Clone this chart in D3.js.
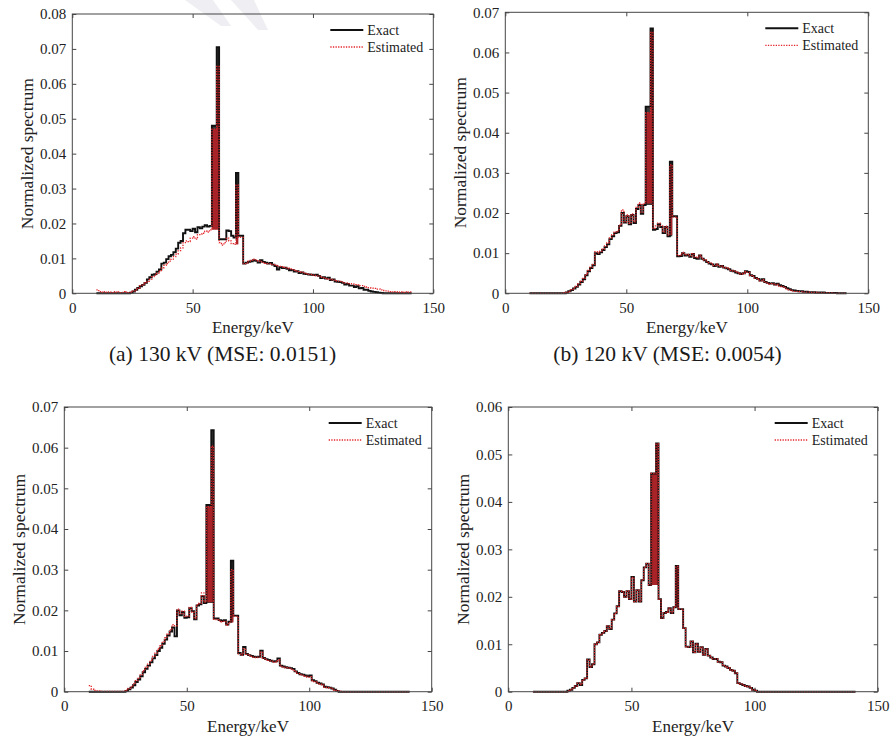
<!DOCTYPE html>
<html>
<head>
<meta charset="utf-8">
<script src="https://cdn.jsdelivr.net/npm/d3@7"></script>
<style>
  body { margin: 0; background: #fff; }
  svg { display: block; }
  text { font-family: "Liberation Serif", "Times New Roman", serif; }
</style>
</head>
<body>
<svg id="fig" width="890" height="738"></svg>
<script>
// Energy grid: 1 keV bins from 10 to 140 keV
const energyStart = 10;
const energyEnd = 140;
const energies = d3.range(energyStart, energyEnd + 1);

// Tungsten characteristic lines (K-alpha2/K-alpha1, K-beta) as bin ranges [first, last]
const lineBands = [[58, 60], [68, 68]];

const xTicks = [0, 50, 100, 150];
const yTicks130 = [0, 0.01, 0.02, 0.03, 0.04, 0.05, 0.06, 0.07, 0.08];
const yTicks120 = [0, 0.01, 0.02, 0.03, 0.04, 0.05, 0.06, 0.07];
const yTicks110 = [0, 0.01, 0.02, 0.03, 0.04, 0.05, 0.06, 0.07];
const yTicks100 = [0, 0.01, 0.02, 0.03, 0.04, 0.05, 0.06];

const seriesNames = ["Exact", "Estimated"];
const captions = ["(a) 130 kV (MSE: 0.0151)", "(b) 120 kV (MSE: 0.0054)"];
const axisTitleX = "Energy/keV";
const axisTitleY = "Normalized spectrum";

// 130 kV
const exact130 = [
  0, 0, 0, 0, 0, 0, 0, 0, 0, 0,
  0, 0, 0, 0, 0.0002, 0.0005, 0.001, 0.0015, 0.002, 0.0024,
  0.003, 0.004, 0.0046, 0.0053, 0.0055, 0.0062, 0.0068, 0.0085, 0.0088, 0.0098,
  0.0106, 0.011, 0.0118, 0.0128, 0.0145, 0.015, 0.0172, 0.0182, 0.0182, 0.0178,
  0.0185, 0.0175, 0.0189, 0.0186, 0.0191, 0.0195, 0.0191, 0.0193, 0.048, 0.048,
  0.0705, 0.0155, 0.0155, 0.0155, 0.018, 0.0178, 0.0165, 0.016, 0.0345, 0.0165,
  0.0165, 0.0085, 0.0088, 0.009, 0.0092, 0.0095, 0.0093, 0.0088, 0.0095, 0.009,
  0.0088, 0.0085, 0.0087, 0.0082, 0.0078, 0.0068, 0.0075, 0.0072, 0.0073, 0.007,
  0.0066, 0.0067, 0.0062, 0.0063, 0.0058, 0.006, 0.0056, 0.0055, 0.0054, 0.0053,
  0.0052, 0.0053, 0.005, 0.0044, 0.0046, 0.0042, 0.0045, 0.0038, 0.004, 0.0034,
  0.0033, 0.0032, 0.003, 0.0025, 0.0027, 0.0022, 0.0022, 0.0018, 0.002, 0.0014,
  0.0015, 0.001, 0.001, 0.0007, 0.0005, 0.0004, 0.0003, 0.0002, 0.0001, 0,
  0, 0, 0, 0, 0, 0, 0, 0, 0, 0,
  0
];
const est130 = [
  0.001, 0.0005, 0.0003, 0.0005, 0.0003, 0.0004, 0.0002, 0.0005, 0.0003, 0.0004,
  0.0002, 0.0005, 0.0003, 0.0002, 0.0003, 0.0006, 0.001, 0.0014, 0.0022, 0.0026,
  0.003, 0.0034, 0.004, 0.0048, 0.0052, 0.0058, 0.0063, 0.0072, 0.008, 0.0085,
  0.0092, 0.0098, 0.0105, 0.0112, 0.0122, 0.013, 0.0145, 0.015, 0.0148, 0.0158,
  0.0162, 0.0155, 0.0168, 0.017, 0.0172, 0.0178, 0.0175, 0.0182, 0.047, 0.047,
  0.065, 0.0145, 0.0138, 0.0145, 0.0158, 0.015, 0.0142, 0.014, 0.031, 0.016,
  0.016, 0.0085, 0.0087, 0.0092, 0.0095, 0.0098, 0.0096, 0.0092, 0.009, 0.0088,
  0.0086, 0.0085, 0.0085, 0.0082, 0.008, 0.0078, 0.0077, 0.0076, 0.0074, 0.0073,
  0.007, 0.0068, 0.0066, 0.0064, 0.0062, 0.006, 0.0058, 0.0056, 0.0054, 0.0054,
  0.0052, 0.005, 0.0049, 0.0046, 0.0045, 0.0043, 0.0041, 0.004, 0.0038, 0.0036,
  0.0035, 0.0034, 0.0032, 0.003, 0.003, 0.0028, 0.0027, 0.0025, 0.0024, 0.0022,
  0.0022, 0.002, 0.0018, 0.0016, 0.0015, 0.0014, 0.0012, 0.0012, 0.001, 0.0008,
  0.0007, 0.0006, 0.0005, 0.0004, 0.0005, 0.0003, 0.0004, 0.0003, 0.0004, 0.0003,
  0.0004
];

// 120 kV
const exact120 = [
  0, 0, 0, 0, 0, 0, 0, 0, 0, 0,
  0, 0, 0, 0, 0, 0.0002, 0.0005, 0.0008, 0.0012, 0.0016,
  0.0022, 0.0028, 0.0035, 0.0045, 0.0055, 0.0063, 0.007, 0.01, 0.0098, 0.0102,
  0.0108, 0.0115, 0.0122, 0.0135, 0.0142, 0.015, 0.0152, 0.0168, 0.02, 0.0176,
  0.0192, 0.0172, 0.0195, 0.0175, 0.021, 0.022, 0.0198, 0.022, 0.0465, 0.0465,
  0.066, 0.0158, 0.016, 0.0172, 0.0165, 0.015, 0.0165, 0.0142, 0.0328, 0.0192,
  0.0192, 0.0092, 0.0093, 0.01, 0.0094, 0.0096, 0.0091, 0.0098, 0.0088, 0.0086,
  0.0094, 0.0086, 0.0082, 0.0078, 0.0074, 0.0072, 0.0068, 0.0072, 0.0066, 0.0068,
  0.0064, 0.0062, 0.006, 0.0056, 0.0055, 0.0052, 0.005, 0.0048, 0.005, 0.0055,
  0.0053, 0.0045, 0.0043, 0.0038, 0.0036, 0.0032, 0.0035, 0.0028, 0.0026, 0.0024,
  0.0025, 0.0022, 0.0024, 0.002, 0.0018, 0.0016, 0.0013, 0.001, 0.0008, 0.0007,
  0.0006, 0.0005, 0.0005, 0.0004, 0.0004, 0.0003, 0.0003, 0.0003, 0.0002, 0.0002,
  0.0002, 0.0002, 0.0001, 0.0001, 0.0001, 0.0001, 0.0001, 0, 0, 0,
  0
];
const est120 = [
  0, 0, 0, 0, 0, 0, 0, 0, 0, 0,
  0, 0, 0, 0, 0.0001, 0.0003, 0.0005, 0.0009, 0.0013, 0.0018,
  0.0024, 0.003, 0.0037, 0.0047, 0.0057, 0.0065, 0.0072, 0.0104, 0.01, 0.0105,
  0.011, 0.0118, 0.0126, 0.0138, 0.0146, 0.0153, 0.0155, 0.017, 0.0208, 0.0178,
  0.0195, 0.0174, 0.0198, 0.0178, 0.0214, 0.0225, 0.0202, 0.0224, 0.045, 0.045,
  0.065, 0.0162, 0.0168, 0.0175, 0.0168, 0.0153, 0.0167, 0.0145, 0.032, 0.019,
  0.019, 0.0094, 0.0095, 0.0102, 0.0096, 0.0097, 0.0093, 0.0099, 0.009, 0.0088,
  0.0095, 0.0087, 0.0083, 0.0079, 0.0076, 0.0073, 0.0069, 0.0073, 0.0067, 0.0068,
  0.0065, 0.0063, 0.006, 0.0057, 0.0055, 0.0053, 0.0051, 0.0048, 0.005, 0.0054,
  0.0052, 0.0044, 0.0042, 0.0037, 0.0035, 0.0031, 0.0034, 0.0027, 0.0025, 0.0023,
  0.0024, 0.0021, 0.0022, 0.0018, 0.0016, 0.0014, 0.0011, 0.0008, 0.0006, 0.0005,
  0.0005, 0.0004, 0.0004, 0.0003, 0.0003, 0.0003, 0.0002, 0.0002, 0.0002, 0.0001,
  0.0001, 0.0001, 0.0001, 0.0001, 0.0001, 0, 0, 0, 0, 0,
  0
];

// 110 kV
const exact110 = [
  0, 0, 0, 0, 0, 0, 0, 0, 0, 0,
  0, 0, 0, 0, 0, 0.0002, 0.0006, 0.001, 0.0016, 0.0024,
  0.003, 0.0038, 0.0048, 0.0056, 0.0064, 0.0072, 0.0082, 0.009, 0.01, 0.0108,
  0.0118, 0.0128, 0.0138, 0.0148, 0.0158, 0.0136, 0.02, 0.0188, 0.0196, 0.0182,
  0.0183, 0.0205, 0.0198, 0.0178, 0.0212, 0.0215, 0.0235, 0.0218, 0.0459, 0.0459,
  0.0643, 0.018, 0.018, 0.0176, 0.0174, 0.0176, 0.0165, 0.0172, 0.0322, 0.0187,
  0.0187, 0.0095, 0.0091, 0.011, 0.0093, 0.009, 0.0088, 0.0086, 0.0085, 0.0086,
  0.0101, 0.0083, 0.008, 0.0078, 0.0076, 0.0074, 0.0075, 0.0082, 0.0064, 0.0062,
  0.006, 0.0059, 0.0058, 0.0056, 0.005, 0.0046, 0.0043, 0.0042, 0.004, 0.0038,
  0.004, 0.0028, 0.0026, 0.0022, 0.002, 0.0018, 0.0012, 0.0011, 0.001, 0.0008,
  0.0005, 0.0002, 0, 0, 0, 0, 0, 0, 0, 0,
  0, 0, 0, 0, 0, 0, 0, 0, 0, 0,
  0, 0, 0, 0, 0, 0, 0, 0, 0, 0,
  0
];
const est110 = [
  0.0015, 0.0006, 0.0003, 0.0002, 0.0002, 0.0001, 0.0001, 0.0001, 0.0001, 0.0001,
  0.0001, 0.0001, 0.0001, 0.0001, 0.0002, 0.0004, 0.0008, 0.0012, 0.0019, 0.0027,
  0.0033, 0.0042, 0.0052, 0.006, 0.0068, 0.0077, 0.0087, 0.0095, 0.0105, 0.0113,
  0.0123, 0.0133, 0.0142, 0.0152, 0.0165, 0.0162, 0.0203, 0.0192, 0.0198, 0.0185,
  0.0186, 0.0207, 0.0196, 0.018, 0.0214, 0.0218, 0.0243, 0.022, 0.0455, 0.0455,
  0.0604, 0.0178, 0.0177, 0.0174, 0.0172, 0.0173, 0.0163, 0.017, 0.03, 0.0185,
  0.0185, 0.0093, 0.009, 0.0106, 0.0092, 0.0089, 0.0087, 0.0085, 0.0084, 0.0085,
  0.0097, 0.0082, 0.0079, 0.0077, 0.0075, 0.0072, 0.0073, 0.0078, 0.0063, 0.0061,
  0.0059, 0.0058, 0.0056, 0.0054, 0.0049, 0.0045, 0.0042, 0.0041, 0.0038, 0.0036,
  0.0037, 0.0027, 0.0024, 0.0021, 0.0019, 0.0016, 0.0011, 0.001, 0.0009, 0.0007,
  0.0004, 0.0002, 0.0001, 0, 0, 0, 0, 0, 0, 0,
  0, 0, 0, 0, 0, 0, 0, 0, 0, 0,
  0, 0, 0, 0, 0, 0, 0, 0, 0, 0,
  0
];

// 100 kV
const exact100 = [
  0, 0, 0, 0, 0, 0, 0, 0, 0, 0,
  0, 0, 0, 0, 0.0002, 0.0004, 0.0008, 0.0012, 0.0018, 0.0014,
  0.0025, 0.0028, 0.0068, 0.0052, 0.0058, 0.01, 0.0104, 0.012, 0.0124, 0.0128,
  0.0138, 0.0132, 0.0152, 0.0165, 0.018, 0.0212, 0.021, 0.02, 0.0212, 0.0195,
  0.0242, 0.019, 0.0214, 0.019, 0.0235, 0.0262, 0.027, 0.0225, 0.046, 0.046,
  0.0523, 0.0195, 0.0155, 0.0166, 0.0168, 0.0176, 0.0166, 0.0178, 0.0265, 0.0174,
  0.0174, 0.0134, 0.0095, 0.0094, 0.0106, 0.0083, 0.0101, 0.0084, 0.0094, 0.0078,
  0.009, 0.0076, 0.0072, 0.0069, 0.0069, 0.0063, 0.0062, 0.0055, 0.0053, 0.005,
  0.0046, 0.0044, 0.0039, 0.0018, 0.0016, 0.0014, 0.0012, 0.0011, 0.0008, 0.0004,
  0.0002, 0, 0, 0, 0, 0, 0, 0, 0, 0,
  0, 0, 0, 0, 0, 0, 0, 0, 0, 0,
  0, 0, 0, 0, 0, 0, 0, 0, 0, 0,
  0, 0, 0, 0, 0, 0, 0, 0, 0, 0,
  0
];
const est100 = [
  0, 0, 0, 0, 0, 0, 0, 0, 0, 0,
  0, 0, 0, 0, 0.0002, 0.0004, 0.0008, 0.0012, 0.0018, 0.0015,
  0.0025, 0.0028, 0.0067, 0.0052, 0.0058, 0.01, 0.0104, 0.012, 0.0124, 0.0128,
  0.0138, 0.0133, 0.0152, 0.0165, 0.018, 0.0212, 0.021, 0.02, 0.0212, 0.0195,
  0.0241, 0.019, 0.0214, 0.019, 0.0235, 0.0262, 0.027, 0.0225, 0.046, 0.046,
  0.0522, 0.0195, 0.0155, 0.0166, 0.0168, 0.0176, 0.0166, 0.0178, 0.0264, 0.0174,
  0.0174, 0.0134, 0.0095, 0.0094, 0.0106, 0.0083, 0.0101, 0.0084, 0.0094, 0.0078,
  0.009, 0.0076, 0.0072, 0.0069, 0.0069, 0.0063, 0.0062, 0.0055, 0.0053, 0.005,
  0.0046, 0.0044, 0.0039, 0.0018, 0.0016, 0.0014, 0.0012, 0.0011, 0.0008, 0.0004,
  0.0002, 0, 0, 0, 0, 0, 0, 0, 0, 0,
  0, 0, 0, 0, 0, 0, 0, 0, 0, 0,
  0, 0, 0, 0, 0, 0, 0, 0, 0, 0,
  0, 0, 0, 0, 0, 0, 0, 0, 0, 0,
  0
];

// Panel layout (pixel frames of each plotting box)
const panels = [
  { exact: exact130, est: est130, yMax: 0.08, yTicks: yTicks130, left: 72.3, right: 433.3, top: 14, bottom: 293.3 },
  { exact: exact120, est: est120, yMax: 0.07, yTicks: yTicks120, left: 505.3, right: 868.3, top: 12.3, bottom: 293.3 },
  { exact: exact110, est: est110, yMax: 0.07, yTicks: yTicks110, left: 64.3, right: 431.7, top: 407, bottom: 691.7 },
  { exact: exact100, est: est100, yMax: 0.06, yTicks: yTicks100, left: 508.3, right: 877.7, top: 407, bottom: 691.7 }
];
const captionCenters = [222.5, 667.5];

const colExact = "#111111";
const colEst = "#e3262b";
const colAxis = "#454545";
const colText = "#222222";
// fills of the densely sampled characteristic-line columns
const fillExactBand = "#3a3a3a";
const fillEstBand = "#a82327";

const svg = d3.select("#fig");

// faint diagonal strokes across the top margin
const marks = [
  [[185, 0], [213, 0], [231, 26], [221, 26]],
  [[231, 0], [254, 0], [268, 30], [258, 30]]
];
svg.append("g").selectAll("polygon").data(marks).join("polygon")
  .attr("points", d => d.map(p => p.join(",")).join(" "))
  .attr("fill", "#efeff3");

const fmtY = d => d === 0 ? "0" : d3.format(".2f")(d);

function stepPoints(vals) {
  const pts = energies.map((e, k) => [e, vals[k]]);
  pts.push([energyEnd + 1, vals[vals.length - 1]]);
  return pts;
}

panels.forEach(p => {
  const x = d3.scaleLinear().domain([0, 150]).range([p.left, p.right]);
  const y = d3.scaleLinear().domain([0, p.yMax]).range([p.bottom, p.top]);
  const g = svg.append("g");

  // axes with inward ticks on all four sides
  const axB = g.append("g").attr("transform", `translate(0,${p.bottom})`)
    .call(d3.axisBottom(x).tickValues(xTicks).tickSizeInner(-4).tickSizeOuter(0).tickPadding(9).tickFormat(d3.format("d")));
  const axT = g.append("g").attr("transform", `translate(0,${p.top})`)
    .call(d3.axisTop(x).tickValues(xTicks).tickSizeInner(-4).tickSizeOuter(0).tickFormat(""));
  const axL = g.append("g").attr("transform", `translate(${p.left},0)`)
    .call(d3.axisLeft(y).tickValues(p.yTicks).tickSizeInner(-4).tickSizeOuter(0).tickPadding(6).tickFormat(fmtY));
  const axR = g.append("g").attr("transform", `translate(${p.right},0)`)
    .call(d3.axisRight(y).tickValues(p.yTicks).tickSizeInner(-4).tickSizeOuter(0).tickFormat(""));
  [axB, axT, axL, axR].forEach(a => {
    a.select(".domain").remove();
    a.selectAll(".tick line").attr("stroke", colAxis);
    a.selectAll(".tick text").attr("fill", colText).style("font-size", "15px")
      .style("font-family", '"Liberation Serif", "Times New Roman", serif');
  });

  // filled characteristic-line columns
  [[p.exact, fillExactBand], [p.est, fillEstBand]].forEach(([vals, fill]) => {
    lineBands.forEach(([b0, b1]) => {
      const base = vals[b0 - 1 - energyStart];
      const pts = d3.range(b0, b1 + 1).map(e => [e, vals[e - energyStart]]);
      pts.push([b1 + 1, vals[b1 - energyStart]]);
      const area = d3.area().curve(d3.curveStepAfter)
        .x(d => x(d[0])).y0(y(base)).y1(d => y(d[1]));
      g.append("path").attr("d", area(pts)).attr("fill", fill);
    });
  });

  const line = d3.line().curve(d3.curveStepAfter).x(d => x(d[0])).y(d => y(d[1]));
  g.append("path").attr("d", line(stepPoints(p.exact)))
    .attr("fill", "none").attr("stroke", colExact).attr("stroke-width", 1.9).attr("stroke-linejoin", "miter");
  g.append("path").attr("d", line(stepPoints(p.est)))
    .attr("fill", "none").attr("stroke", colEst).attr("stroke-width", 1.3).attr("stroke-dasharray", "1.3,1.3");

  // frame
  g.append("rect").attr("x", p.left).attr("y", p.top)
    .attr("width", p.right - p.left).attr("height", p.bottom - p.top)
    .attr("fill", "none").attr("stroke", colAxis).attr("stroke-width", 1);

  // axis titles
  g.append("text").attr("x", (p.left + p.right) / 2).attr("y", p.bottom + 40)
    .attr("text-anchor", "middle").attr("fill", colText).style("font-size", "17px").text(axisTitleX);
  g.append("text")
    .attr("transform", `translate(${p.left - 39},${(p.top + p.bottom) / 2}) rotate(-90)`)
    .attr("text-anchor", "middle").attr("fill", colText).style("font-size", "17.5px").text(axisTitleY);

  // legend
  const lx1 = p.right - 103, lx2 = p.right - 70;
  const rows = [
    { name: seriesNames[0], yy: p.top + 16, stroke: colExact, w: 1.9, dash: null },
    { name: seriesNames[1], yy: p.top + 33, stroke: colEst, w: 1.3, dash: "1.3,1.3" }
  ];
  rows.forEach(r => {
    g.append("line").attr("x1", lx1).attr("x2", lx2).attr("y1", r.yy).attr("y2", r.yy)
      .attr("stroke", r.stroke).attr("stroke-width", r.w).attr("stroke-dasharray", r.dash);
    g.append("text").attr("x", p.right - 66).attr("y", r.yy + 5)
      .attr("fill", colText).style("font-size", "14px").text(r.name);
  });
});

// sub-figure captions
captions.forEach((c, i) => {
  svg.append("text").attr("x", captionCenters[i]).attr("y", 361)
    .attr("text-anchor", "middle").attr("fill", "#1a1a1a").style("font-size", "21.5px").text(c);
});
</script>
</body>
</html>
